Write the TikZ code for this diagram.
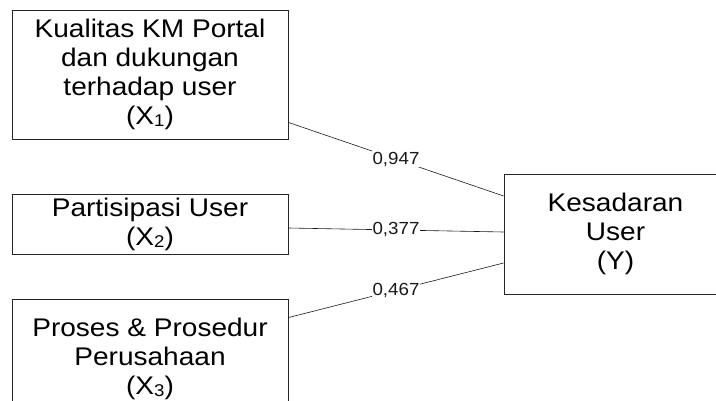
\documentclass[tikz,border=0pt]{standalone}
\usepackage{fontspec}
\newfontfamily\boxfont{Liberation Sans}[FakeStretch=1.1]
\newfontfamily\valfont{Liberation Sans}[FakeStretch=1.07]
\newcommand{\idx}[1]{\raisebox{-2pt}{\fontsize{17}{17}\selectfont #1}}
\usetikzlibrary{calc}

\begin{document}
\begin{tikzpicture}[x=1pt,y=1pt,
	varbox/.style={draw=black!85,line width=0.9pt,align=center,inner sep=0pt,
		font=\boxfont\fontsize{25.5}{29}\selectfont},
	path/.style={line width=0.6pt,black!90},
	coef/.style={fill=white,inner sep=1pt,font=\valfont\fontsize{17.5}{20}\selectfont}]
				\useasboundingbox (0,0) rectangle (716,400);
				\node[varbox,minimum width=276,minimum height=129] (x1) at (150,325.5) {Kualitas KM Portal\\dan dukungan\\terhadap user\\(X\idx{1})};
				\node[varbox,minimum width=276,minimum height=60] (x2) at (150,176) {Partisipasi User\\(X\idx{2})};
				\node[varbox,minimum width=276,minimum height=119] (x3) at (150,41.5) {Proses \& Prosedur\\Perusahaan\\(X\idx{3})};
				\node[varbox,minimum width=223,minimum height=120] (y) at (615.5,166) {Kesadaran\\User\\(Y)};
				\draw[path] ([yshift=17]x1.south east) -- node[coef]{0,947} ([yshift=38]y.west);
				\draw[path] ([yshift=-4]x2.east) -- node[coef]{0,377} ([yshift=2]y.west);
				\draw[path] ([yshift=-19]x3.north east) -- node[coef]{0,467} ([yshift=-29]y.west);
			\end{tikzpicture}
\end{document}
